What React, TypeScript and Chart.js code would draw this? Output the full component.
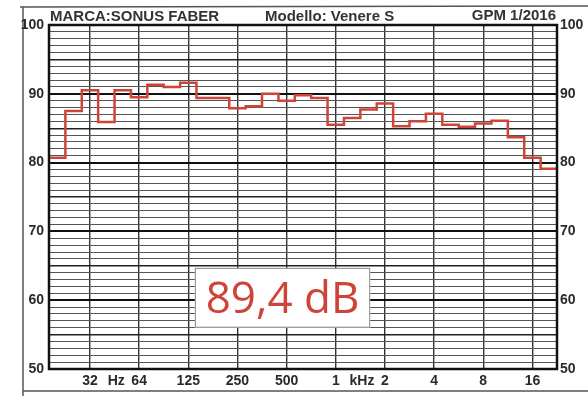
import React, { useEffect, useRef } from "react";
import { Chart, registerables } from "chart.js";

Chart.register(...registerables);

// 1/3-octave bands, 20 Hz .. 20 kHz
const bands = [
  "20", "25", "31.5", "40", "50", "63", "80", "100", "125", "160",
  "200", "250", "315", "400", "500", "630", "800", "1k", "1.25k", "1.6k",
  "2k", "2.5k", "3.15k", "4k", "5k", "6.3k", "8k", "10k", "12.5k", "16k", "20k",
];
// level per band (dB)
const levels = [
  80.7, 87.5, 90.5, 85.9, 90.5, 89.5, 91.3, 91.0, 91.6, 89.4,
  89.4, 87.9, 88.2, 90.0, 89.0, 89.8, 89.4, 85.5, 86.5, 87.7,
  88.6, 85.3, 86.0, 87.1, 85.5, 85.2, 85.7, 86.1, 83.7, 80.7, 79.1,
];

const yMin = 50;
const yMax = 100;
const xTickBands = ["31.5", "63", "125", "250", "500", "1k", "2k", "4k", "8k", "16k"];
const xTickLabels = ["32", "64", "125", "250", "500", "1", "2", "4", "8", "16"];
const unitLabels = ["Hz", "kHz"];
const unitBetween = [["31.5", "63"], ["1k", "2k"]];

const titleBrand = "MARCA:SONUS FABER";
const titleModel = "Modello: Venere S";
const titleSource = "GPM 1/2016";
const sensitivityText = "89,4 dB";

const FONT = "'Liberation Sans', Arial, sans-serif";
const INK = "#2a2a2a";
const RED = "#cf4438";

export default function App() {
  const canvasRef = useRef<HTMLCanvasElement | null>(null);

  useEffect(() => {
    document.body.style.margin = "0";
    const canvas = canvasRef.current;
    if (!canvas) return;

    const points = levels.map((v, i) => ({ x: i - 0.5, y: v }));
    points.push({ x: levels.length - 0.5, y: levels[levels.length - 1] });

    const octaveVals = xTickBands.map((b) => bands.indexOf(b));
    const unitVals = unitBetween.map(([a, b]) => (bands.indexOf(a) + bands.indexOf(b)) / 2 + 0.1);
    const labelMap = new Map<number, string>();
    octaveVals.forEach((v, i) => labelMap.set(v, xTickLabels[i]));
    unitVals.forEach((v, i) => labelMap.set(v, unitLabels[i]));
    const xTickVals = [...octaveVals, ...unitVals].sort((a, b) => a - b);
    const octaveSet = new Set(octaveVals);

    const yTickVals: number[] = [];
    for (let v = yMin; v <= yMax; v++) yTickVals.push(v);

    const decor = {
      id: "decor",
      beforeDraw(chart: any) {
        const { ctx, width, height } = chart;
        ctx.save();
        ctx.fillStyle = "#ffffff";
        ctx.fillRect(0, 0, width, height);
        ctx.strokeStyle = "#555";
        ctx.lineWidth = 1.5;
        ctx.beginPath();
        ctx.moveTo(20, 7);
        ctx.lineTo(width, 6);
        ctx.moveTo(23, 7);
        ctx.lineTo(23, height);
        ctx.moveTo(23, 391);
        ctx.lineTo(width, 391);
        ctx.stroke();
        ctx.fillStyle = "#333";
        ctx.font = `bold 15px ${FONT}`;
        ctx.textBaseline = "middle";
        ctx.textAlign = "left";
        ctx.fillText(titleBrand, 50, 17);
        ctx.fillText(titleModel, 265, 17);
        ctx.textAlign = "right";
        ctx.fillText(titleSource, 556, 16);
        ctx.restore();
      },
      afterDatasetsDraw(chart: any) {
        const { ctx } = chart;
        const xs = chart.scales.x;
        const ys = chart.scales.y;
        const x0 = xs.getPixelForValue(8.4);
        const x1 = xs.getPixelForValue(19.1);
        const y0 = ys.getPixelForValue(64.7);
        const y1 = ys.getPixelForValue(56.0);
        ctx.save();
        ctx.fillStyle = "#ffffff";
        ctx.fillRect(x0, y0, x1 - x0, y1 - y0);
        ctx.strokeStyle = "#888";
        ctx.lineWidth = 1;
        ctx.strokeRect(x0 + 0.5, y0 + 0.5, x1 - x0 - 1, y1 - y0 - 1);
        ctx.fillStyle = RED;
        ctx.font = `44px 'Open Sans', Lato, sans-serif`;
        ctx.textAlign = "center";
        ctx.textBaseline = "alphabetic";
        ctx.fillText(sensitivityText, (x0 + x1) / 2, y1 - 15);
        ctx.restore();
      },
      afterDraw(chart: any) {
        const { ctx, chartArea: a } = chart;
        ctx.save();
        ctx.strokeStyle = "#111";
        ctx.lineWidth = 2.5;
        ctx.strokeRect(a.left, a.top, a.right - a.left, a.bottom - a.top);
        ctx.restore();
      },
    };

    const yGridColor = (c: any) => {
      const v = c.tick?.value;
      if (v % 10 === 0) return "#111";
      if (v % 5 === 0) return "#222";
      return "#555";
    };
    const yGridWidth = (c: any) => {
      const v = c.tick?.value;
      if (v % 10 === 0) return 2;
      if (v % 5 === 0) return 1.4;
      return 1;
    };

    const chart = new Chart(canvas, {
      type: "line",
      data: {
        datasets: [
          {
            data: points,
            stepped: "before",
            borderColor: RED,
            borderWidth: 2.5,
            pointRadius: 0,
            fill: false,
          },
        ],
      },
      plugins: [decor],
      options: {
        animation: false,
        responsive: true,
        maintainAspectRatio: false,
        layout: { padding: { top: 25, left: 0, right: 0, bottom: 0 } },
        plugins: { legend: { display: false }, tooltip: { enabled: false }, title: { display: false } },
        scales: {
          x: {
            type: "linear",
            min: -0.5,
            max: bands.length - 0.5,
            afterBuildTicks: (s: any) => {
              s.ticks = xTickVals.map((v) => ({ value: v }));
            },
            afterFit: (s: any) => {
              s.height = 27;
            },
            ticks: {
              autoSkip: false,
              maxRotation: 0,
              padding: 4,
              color: INK,
              font: { family: FONT, size: 14, weight: "bold" },
              callback: (v: any) => labelMap.get(v) ?? "",
            },
            grid: {
              drawTicks: false,
              color: (c: any) => (octaveSet.has(c.tick?.value) ? "#333" : "rgba(0,0,0,0)"),
              lineWidth: 1.4,
            },
            border: { display: false },
          },
          y: {
            type: "linear",
            position: "left",
            min: yMin,
            max: yMax,
            afterBuildTicks: (s: any) => {
              s.ticks = yTickVals.map((v) => ({ value: v }));
            },
            afterFit: (s: any) => {
              s.width = 49;
            },
            ticks: {
              autoSkip: false,
              padding: 5,
              color: INK,
              font: { family: FONT, size: 14, weight: "bold" },
              callback: (v: any) => (v % 10 === 0 ? String(v) : ""),
            },
            grid: { drawTicks: false, color: yGridColor, lineWidth: yGridWidth },
            border: { display: false },
          },
          y2: {
            type: "linear",
            position: "right",
            min: yMin,
            max: yMax,
            afterBuildTicks: (s: any) => {
              s.ticks = yTickVals.map((v) => ({ value: v }));
            },
            afterFit: (s: any) => {
              s.width = 31;
            },
            ticks: {
              autoSkip: false,
              padding: 3,
              color: INK,
              font: { family: FONT, size: 14, weight: "bold" },
              callback: (v: any) => (v % 10 === 0 ? String(v) : ""),
            },
            grid: { display: false, drawTicks: false },
            border: { display: false },
          },
        },
      },
    } as any);

    return () => chart.destroy();
  }, []);

  return (
    <div style={{ position: "absolute", left: 0, top: 0, width: 588, height: 396 }}>
      <canvas ref={canvasRef} />
    </div>
  );
}
